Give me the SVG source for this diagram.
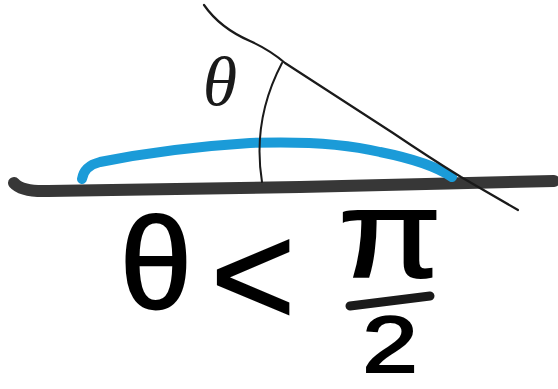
<svg xmlns="http://www.w3.org/2000/svg" width="558" height="389" viewBox="0 0 558 389">
<style>
.ink{fill:none;stroke:#1a1a1a;stroke-linecap:round;stroke-linejoin:round}
.big{font-family:"Liberation Sans",Arial,sans-serif;fill:#000;stroke:#000;stroke-width:2;text-anchor:middle}
</style>
<rect width="558" height="389" fill="#fff"/>
<g id="surface">
<path d="M14,183 Q22,192 48,191 L300,187 L554,181" fill="none" stroke="#373737" stroke-width="12" stroke-linecap="round" stroke-linejoin="round"/>
</g>
<g id="droplet">
<path d="M82,179 Q84,166 100,162 Q170,148 250,143 Q330,140 380,152 Q430,162 452,177" fill="none" stroke="#1b9bd8" stroke-width="10" stroke-linecap="round"/>
</g>
<g id="tangent">
<path d="M204,5 Q220,28 250,41 Q270,50 285,63 L393,133 Q430,158 461,177 L518,210" class="ink" stroke-width="2.2"/>
<path d="M282,63 Q252,120 262,182" class="ink" stroke-width="2"/>
</g>
<g id="angle-label">
<text x="220" y="105" font-family="Liberation Serif,serif" font-style="italic" font-size="70" text-anchor="middle" fill="#1a1a1a">θ</text>
</g>
<g id="inequality">
<text x="156" y="308" font-size="130" class="big">θ</text>
<text x="253" y="325" font-size="145" class="big" stroke-width="1">&lt;</text>
<text x="390" y="277" font-size="125" class="big" stroke-width="0" transform="translate(390 0) scale(1.2 1) translate(-390 0)">π</text>
<path d="M350,306 L430,296" class="ink" stroke="#000" stroke-width="9"/>
<text x="390" y="372" font-size="80" class="big" stroke-width="3" transform="translate(390 0) scale(1.25 1) translate(-390 0)">2</text>
</g>
</svg>
